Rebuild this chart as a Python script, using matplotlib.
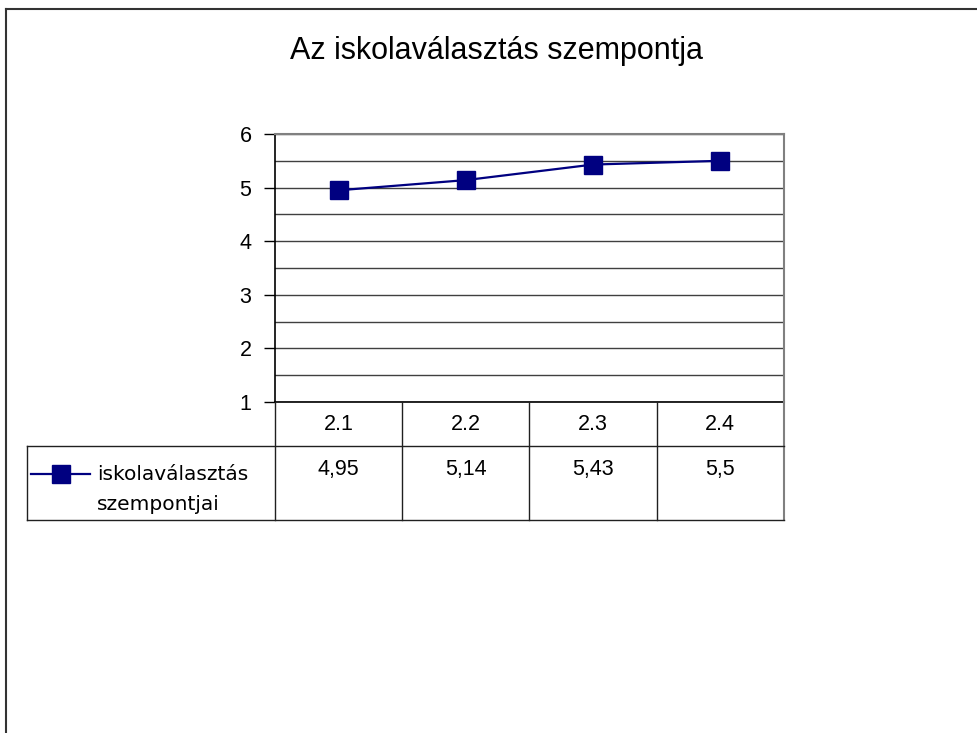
import matplotlib

matplotlib.use("Agg")

import matplotlib.pyplot as plt
from matplotlib.lines import Line2D

plt.rcParams["font.family"] = ["Liberation Sans", "DejaVu Sans"]

# chart data
title = "Az iskolaválasztás szempontja"
categories = ["2.1", "2.2", "2.3", "2.4"]
values = [4.95, 5.14, 5.43, 5.5]
value_labels = ["4,95", "5,14", "5,43", "5,5"]
series_lines = ["iskolaválasztás", "szempontjai"]

W, H = 978, 733
NAVY = "#000080"


def fx(px):
    return px / W


def fy(py):
    return 1 - py / H


fig = plt.figure(figsize=(W / 100, H / 100), dpi=100)

# outer chart frame (cut by the image border on right and bottom)
frame_kw = dict(color="#333333", lw=1.5, transform=fig.transFigure)
fig.add_artist(Line2D([fx(6), fx(6)], [fy(9), 0], **frame_kw))
fig.add_artist(Line2D([fx(6), 1], [fy(9), fy(9)], **frame_kw))

fig.text(fx(497), fy(51), title, ha="center", va="center", fontsize=22)

# plot area
left, right, top, bottom = 275, 784, 134, 402
ax = fig.add_axes([fx(left), fy(bottom), fx(right - left), fy(top) - fy(bottom)])
x = list(range(len(categories)))
ax.plot(x, values, color=NAVY, lw=1.6, marker="s", markersize=13,
        markerfacecolor=NAVY, markeredgecolor=NAVY, zorder=3)
ax.set_xlim(-0.5, len(categories) - 0.5)
ax.set_ylim(1, 6)
ax.set_yticks([1, 2, 3, 4, 5, 6])
ax.set_yticks([1.5, 2.5, 3.5, 4.5, 5.5], minor=True)
ax.yaxis.grid(True, which="both", color="#404040", lw=1.0)
ax.set_axisbelow(True)
ax.set_xticks([])
ax.tick_params(axis="y", which="major", length=8, width=1, labelsize=15.5, pad=9,
               color="black")
ax.tick_params(axis="y", which="minor", length=0)
for side in ["left", "bottom"]:
    ax.spines[side].set_color("black")
    ax.spines[side].set_linewidth(1.2)
for side in ["top", "right"]:
    ax.spines[side].set_color("#808080")
    ax.spines[side].set_linewidth(1.5)

# data table below the plot area
fig.canvas.draw()
to_fig = ax.transData + fig.transFigure.inverted()
bounds = [to_fig.transform((c - 0.5, 1))[0] for c in range(len(categories) + 1)]
centers = [to_fig.transform((c, 1))[0] for c in x]

row1_bot, row2_bot, table_left = 446, 520, 27
tab_kw = dict(color="#202020", lw=1.0, transform=fig.transFigure)
for b in bounds[:-1]:
    fig.add_artist(Line2D([b, b], [fy(bottom), fy(row2_bot)], **tab_kw))
fig.add_artist(Line2D([bounds[-1]] * 2, [fy(bottom), fy(row2_bot)], color="#808080",
                      lw=1.5, transform=fig.transFigure))
fig.add_artist(Line2D([fx(table_left), bounds[-1]], [fy(row1_bot), fy(row1_bot)], **tab_kw))
fig.add_artist(Line2D([fx(table_left), bounds[-1]], [fy(row2_bot), fy(row2_bot)], **tab_kw))
fig.add_artist(Line2D([fx(table_left), fx(table_left)], [fy(row1_bot), fy(row2_bot)], **tab_kw))

for cx, cat, lab in zip(centers, categories, value_labels):
    fig.text(cx, fy(430), cat, ha="center", va="baseline", fontsize=15.5)
    fig.text(cx, fy(475), lab, ha="center", va="baseline", fontsize=15.5)

# legend key inside the table
fig.add_artist(Line2D([fx(31), fx(90)], [fy(474), fy(474)], color=NAVY, lw=1.6,
                      transform=fig.transFigure))
fig.add_artist(Line2D([fx(61)], [fy(474)], color=NAVY, marker="s", markersize=13,
                      transform=fig.transFigure))
for i, line in enumerate(series_lines):
    fig.text(fx(97), fy(480 + 30 * i), line, ha="left", va="baseline", fontsize=14.5,
             family="DejaVu Sans")

fig.savefig("out.png", dpi=100)
